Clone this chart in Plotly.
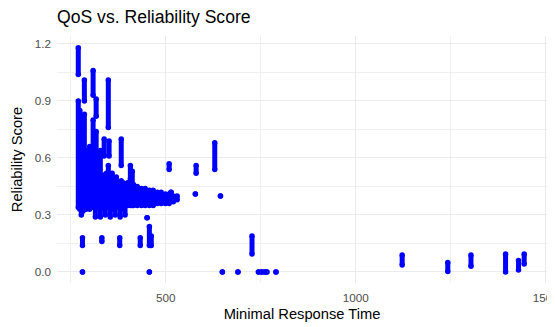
import plotly.graph_objects as go

# Observed vertical runs of points: x (minimal response time), lowest and highest reliability score
seg_x = [270, 270, 274, 278, 282, 286, 286, 290, 296, 300, 304, 309, 309, 313, 317, 317, 322,
         328, 333, 338, 338, 344, 349, 351, 349, 355, 359, 364, 370, 375, 383, 383, 388, 394,
         400, 407, 407, 412,
         415, 425, 436, 446, 457, 467, 478, 488, 499, 509, 520, 530,
         315, 328, 341, 354, 367, 380, 393, 451,
         281, 332, 379, 433, 457, 462,
         281, 457, 649, 690, 744, 752, 760, 766, 790,
         509, 514, 580, 578, 629, 644, 727,
         1122, 1242, 1303, 1394, 1428, 1443]
seg_lo = [1.04, 0.34, 0.33, 0.30, 0.32, 0.90, 0.33, 0.33, 0.38, 0.33, 0.34, 0.93, 0.35, 0.34, 0.82, 0.38, 0.34,
          0.35, 0.34, 0.61, 0.33, 0.34, 0.76, 0.61, 0.35, 0.33, 0.33, 0.34, 0.35, 0.34, 0.56, 0.33, 0.34, 0.35,
          0.35, 0.49, 0.35, 0.35,
          0.35, 0.35, 0.35, 0.35, 0.35, 0.35, 0.36, 0.36, 0.36, 0.36, 0.37, 0.38,
          0.29, 0.29, 0.30, 0.29, 0.30, 0.29, 0.30, 0.286,
          0.14, 0.16, 0.14, 0.14, 0.14, 0.14,
          0.0, 0.0, 0.0, 0.0, 0.0, 0.0, 0.0, 0.0, 0.0,
          0.54, 0.42, 0.52, 0.41, 0.54, 0.40, 0.095,
          0.037, 0.003, 0.03, 0.0, 0.01, 0.042]
seg_hi = [1.18, 0.90, 0.85, 0.75, 0.70, 1.01, 0.83, 0.62, 0.64, 0.66, 0.58, 1.06, 0.80, 0.62, 0.91, 0.74, 0.55,
          0.64, 0.50, 0.70, 0.51, 0.52, 1.01, 0.69, 0.56, 0.48, 0.52, 0.49, 0.50, 0.47, 0.70, 0.48, 0.47, 0.46,
          0.47, 0.56, 0.46, 0.53,
          0.46, 0.45, 0.44, 0.44, 0.43, 0.43, 0.42, 0.42, 0.41, 0.41, 0.40, 0.40,
          0.35, 0.35, 0.35, 0.35, 0.35, 0.35, 0.35, 0.286,
          0.18, 0.18, 0.18, 0.18, 0.24, 0.19,
          0.0, 0.0, 0.0, 0.0, 0.0, 0.0, 0.0, 0.0, 0.0,
          0.57, 0.42, 0.56, 0.41, 0.68, 0.40, 0.19,
          0.09, 0.05, 0.09, 0.095, 0.06, 0.095]

x_ticks = [500, 1000, 1500]
y_ticks = [0.0, 0.3, 0.6, 0.9, 1.2]
y_tick_labels = ["0.0", "0.3", "0.6", "0.9", "1.2"]

xs, ys = [], []
for x, lo, hi in zip(seg_x, seg_lo, seg_hi):
    xs += [x, x, None]
    ys += [lo, hi, None]

fig = go.Figure()
fig.add_trace(go.Scatter(
    x=xs, y=ys, mode="lines+markers",
    line=dict(color="#0000FF", width=5),
    marker=dict(color="#0000FF", size=5.5, line=dict(width=0)),
    connectgaps=False, hoverinfo="skip", showlegend=False,
))

font_family = "Liberation Sans, Arial, sans-serif"
fig.update_layout(
    width=547, height=319,
    margin=dict(l=49, r=8, t=28, b=44),
    paper_bgcolor="white", plot_bgcolor="white",
    font=dict(family=font_family, color="#000000"),
    title=dict(text="QoS vs. Reliability Score", x=0.0, xref="paper", xanchor="left",
               y=1 - 9 / 319, yref="container", yanchor="middle",
               font=dict(size=17.6, color="#000000", family=font_family)),
    xaxis=dict(range=[214, 1503], tickvals=x_ticks, showgrid=True, gridcolor="#EBEBEB", gridwidth=1.1,
               zeroline=False, showline=False, ticks="", automargin=False, ticklabelstandoff=6,
               ticklabeloverflow="allow",
               tickfont=dict(size=11.7, color="#4D4D4D"),
               title=dict(text="Minimal Response Time", font=dict(size=14.7, color="#000000"), standoff=6),
               minor=dict(tickvals=[250, 750, 1250], showgrid=True, gridcolor="#F0F0F0", gridwidth=0.7)),
    yaxis=dict(range=[-0.058, 1.242], tickvals=y_ticks, ticktext=y_tick_labels, showgrid=True,
               gridcolor="#EBEBEB", gridwidth=1.1, zeroline=False, showline=False, ticks="", automargin=False,
               ticklabelstandoff=5,
               tickfont=dict(size=11.7, color="#4D4D4D"),
               title=dict(text="Reliability Score", font=dict(size=14.7, color="#000000"), standoff=8),
               minor=dict(tickvals=[0.15, 0.45, 0.75, 1.05], showgrid=True, gridcolor="#F0F0F0", gridwidth=0.7)),
)

fig.write_html("out.html")
